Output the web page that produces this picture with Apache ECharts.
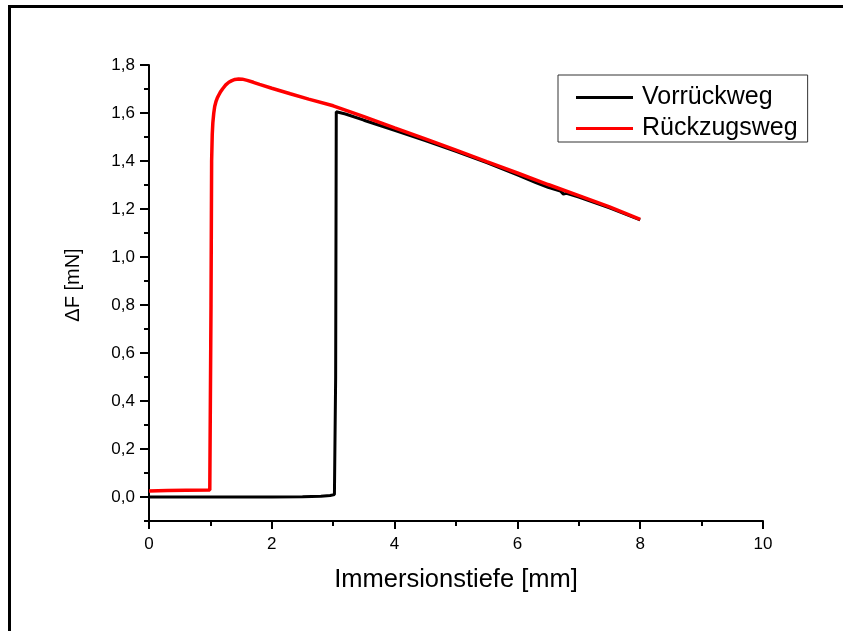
<!DOCTYPE html>
<html>
<head>
<meta charset="utf-8">
<script src="https://cdn.jsdelivr.net/npm/echarts@6/dist/echarts.min.js"></script>
<style>
html,body{margin:0;padding:0;background:#fff;}
#chart{width:843px;height:631px;}
</style>
</head>
<body>
<div id="chart"></div>
<script>
// Vorrückweg (black)
var vorX = [0, 1.0, 2.0, 2.5, 2.8, 2.95, 3.02, 3.04, 3.05, 3.2, 3.5, 4.0, 4.5, 5.0, 5.5, 6.0, 6.3, 6.5, 6.7, 6.75, 6.8, 7.0, 7.5, 8.0];
var vorY = [0.0, 0.0, 0.0, 0.001, 0.003, 0.006, 0.01, 0.5, 1.605, 1.596, 1.57, 1.528, 1.485, 1.44, 1.393, 1.342, 1.31, 1.29, 1.275, 1.262, 1.265, 1.25, 1.205, 1.155];
// Rückzugsweg (red)
var rueX = [0, 0.3, 0.6, 0.99, 1.0, 1.01, 1.02, 1.03, 1.04, 1.055, 1.07, 1.09, 1.11, 1.13, 1.16, 1.2, 1.25, 1.3, 1.35, 1.4, 1.46, 1.52, 1.6, 1.7, 1.8, 2.0, 2.3, 2.6, 3.0, 3.5, 4.0, 4.5, 5.0, 5.5, 6.0, 6.5, 7.0, 7.5, 8.0];
var rueY = [0.025, 0.027, 0.028, 0.029, 0.03, 0.8, 1.40, 1.51, 1.56, 1.60, 1.627, 1.647, 1.661, 1.672, 1.686, 1.701, 1.717, 1.728, 1.735, 1.740, 1.742, 1.741, 1.736, 1.728, 1.719, 1.703, 1.680, 1.658, 1.630, 1.585, 1.538, 1.492, 1.445, 1.397, 1.350, 1.302, 1.256, 1.209, 1.157];
var yMajor = [0, 0.2, 0.4, 0.6, 0.8, 1.0, 1.2, 1.4, 1.6, 1.8];
var yMinor = [-0.1, 0.1, 0.3, 0.5, 0.7, 0.9, 1.1, 1.3, 1.5, 1.7];
var seriesNames = ['Vorrückweg', 'Rückzugsweg'];

function zip(a, b) { return a.map(function (v, i) { return [v, b[i]]; }); }
var FONT = "'Liberation Sans', Arial, sans-serif";

var chart = echarts.init(document.getElementById('chart'), null, {renderer: 'canvas'});
chart.setOption({
  animation: false,
  backgroundColor: '#fff',
  textStyle: {fontFamily: FONT},
  graphic: [{
    type: 'rect',
    shape: {x: 9.5, y: 6.5, width: 900, height: 700},
    style: {fill: null, stroke: '#000', lineWidth: 3},
    silent: true
  }],
  grid: {left: 149, right: 80, top: 65, bottom: 110, containLabel: false},
  legend: {
    orient: 'vertical',
    left: 558, top: 75,
    data: seriesNames,
    icon: 'rect',
    itemWidth: 57, itemHeight: 3,
    itemGap: 6,
    padding: [10, 10, 1, 18],
    borderColor: '#333', borderWidth: 1,
    textStyle: {fontFamily: FONT, fontSize: 25, color: '#000', lineHeight: 24, padding: [0, 0, 0, 4]}
  },
  xAxis: {
    type: 'value', min: 0, max: 10, interval: 2,
    name: 'Immersionstiefe [mm]', nameLocation: 'middle', nameGap: 46,
    nameTextStyle: {fontFamily: FONT, fontSize: 25.5, color: '#000'},
    axisLine: {show: true, onZero: false, lineStyle: {color: '#000', width: 2}},
    axisTick: {show: true, inside: false, length: 8, lineStyle: {color: '#000', width: 2}},
    minorTick: {show: true, splitNumber: 2, length: 5, lineStyle: {color: '#000', width: 2}},
    axisLabel: {fontFamily: FONT, fontSize: 17, color: '#000', margin: 15},
    splitLine: {show: false}, minorSplitLine: {show: false}
  },
  yAxis: [{
    type: 'value', min: -0.1, max: 1.8,
    name: 'ΔF [mN]', nameLocation: 'middle', nameGap: 66, nameRotate: 90,
    nameTextStyle: {fontFamily: FONT, fontSize: 20, color: '#000', padding: [0, 0, 0, 16]},
    axisLine: {show: true, onZero: false, lineStyle: {color: '#000', width: 2}},
    axisTick: {show: true, inside: false, length: 9, customValues: yMajor, lineStyle: {color: '#000', width: 2}},
    axisLabel: {fontFamily: FONT, fontSize: 17, color: '#000', margin: 14, customValues: yMajor,
      formatter: function (v) { return v.toFixed(1).replace('.', ','); }},
    splitLine: {show: false}
  }, {
    type: 'value', min: -0.1, max: 1.8, position: 'left',
    axisLine: {show: false},
    axisTick: {show: true, inside: false, length: 5, customValues: yMinor, lineStyle: {color: '#000', width: 2}},
    axisLabel: {show: false},
    splitLine: {show: false}
  }],
  series: [{
    name: seriesNames[0], type: 'line', data: zip(vorX, vorY), yAxisIndex: 0,
    showSymbol: false, symbol: 'none', smooth: false,
    lineStyle: {color: '#000', width: 3}, itemStyle: {color: '#000'}
  }, {
    name: seriesNames[1], type: 'line', data: zip(rueX, rueY), yAxisIndex: 0,
    showSymbol: false, symbol: 'none', smooth: false,
    lineStyle: {color: '#ff0000', width: 3.5}, itemStyle: {color: '#ff0000'}
  }]
});
</script>
</body>
</html>
